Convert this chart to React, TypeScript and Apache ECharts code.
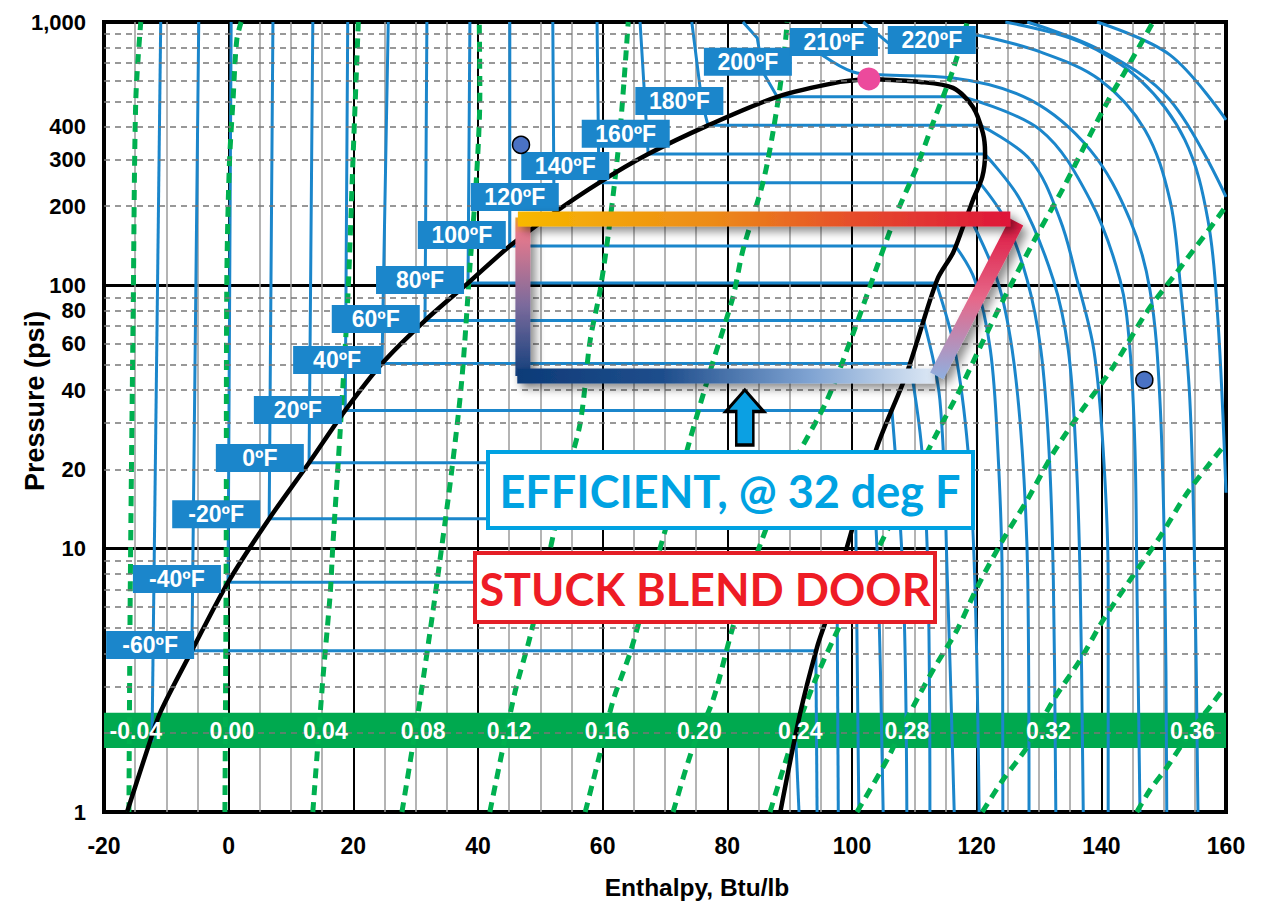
import React, { useEffect, useRef } from "react";
import * as echarts from "echarts";

// ---------- axis / label data ----------
const yLabelValues = [1, 10, 20, 40, 60, 80, 100, 200, 300, 400, 1000];
const yLabelTexts = ["1", "10", "20", "40", "60", "80", "100", "200", "300", "400", "1,000"];
const minorPressures = [2, 3, 4, 5, 6, 7, 8, 9, 20, 30, 40, 50, 60, 70, 80, 90, 200, 300, 400, 500, 600, 700, 800, 900];
const bandLow = 1.75;
const bandHigh = 2.38;
const entropyLabelTexts = ["-0.04", "0.00", "0.04", "0.08", "0.12", "0.16", "0.20", "0.24", "0.28", "0.32", "0.36"];
const entropyLabelH = [-14.9, 0.5, 15.5, 31.2, 45.0, 60.7, 75.5, 91.7, 108.8, 131.5, 154.6];
const entropyLabelP = 2.03;

const tempLabelTexts = ["-60ºF", "-40ºF", "-20ºF", "0ºF", "20ºF", "40ºF", "60ºF", "80ºF", "100ºF", "120ºF", "140ºF", "160ºF", "180ºF", "200ºF", "210ºF", "220ºF"];
const tempLabelH = [-12.6, -8.3, -2.0, 5.0, 11.1, 17.4, 23.6, 30.7, 37.4, 45.9, 54.0, 63.7, 72.3, 83.3, 97.1, 112.8];
const tempLabelP = [4.31, 7.67, 13.5, 22.1, 33.6, 52.1, 74.5, 104.8, 155.4, 216.6, 284, 376, 501, 706, 840, 855];

// ---------- saturation dome ----------
const satLiquid = [[-16.3, 1], [-12.9, 1.77], [-11.0, 2.38], [-5.9, 4.1], [-0.1, 7.45], [6.5, 13.0], [12.9, 21.2], [18.7, 33.5], [24.6, 50.5], [31.5, 73.5], [38.4, 102], [45.1, 141], [52.0, 187], [59.4, 245], [67.3, 315], [76.9, 405], [88.0, 520], [98.1, 592.3], [102.7, 608]];
const satVapor = [[102.7, 608], [110.9, 592.3], [116.2, 562], [119.4, 476], [121.0, 379], [121.35, 318.3], [120.9, 258], [119.4, 211], [117.8, 166.6], [116.2, 132.8], [113.65, 104.8], [108.8, 46.5], [104.0, 24.3], [99.2, 10.15], [96.0, 5.5], [94.4, 4.23], [91.7, 2.38], [88.5, 1]];

// ---------- isotherms ----------
const isoM80Liquid = [[-10.9, 1000], [-12.3, 1.85]];
const isoM80Vapor = [[91.0, 1.85], [91.5, 1]];
const isoM60Straight = [[-4.8, 1000], [-5.9, 4.1], [94.2, 4.1]];
const isoM60Vapor = [[94.2, 4.1], [94.4, 1]];
const isoM40Straight = [[0.4, 1000], [-0.1, 7.45], [97.6, 7.45]];
const isoM40Vapor = [[97.6, 7.45], [97.8, 1]];
const isoM20Straight = [[7.1, 1000], [6.5, 13.0], [100.6, 13.0]];
const isoM20Vapor = [[100.6, 13.0], [100.7, 7.6], [101.1, 1]];
const iso0Straight = [[13.5, 1000], [12.9, 21.2], [103.3, 21.2]];
const iso0Vapor = [[103.3, 21.2], [104.2, 7.6], [105.0, 1]];
const iso20Straight = [[19.1, 1000], [18.7, 33.5], [106.4, 33.5]];
const iso20Vapor = [[106.4, 33.5], [108.2, 7.6], [108.8, 1]];
const iso40Straight = [[25.6, 1000], [24.6, 50.5], [109.3, 50.5]];
const iso40Vapor = [[109.3, 50.5], [111.2, 23.7], [112.2, 7.6], [112.5, 1]];
const iso60Straight = [[31.8, 1000], [31.5, 73.5], [111.5, 73.5]];
const iso60Vapor = [[111.5, 73.5], [114.1, 36.7], [115.3, 7.6], [116.4, 1]];
const iso80Straight = [[38.7, 1000], [38.4, 102], [113.5, 102]];
const iso80Vapor = [[113.5, 102], [116.5, 56.8], [118.6, 23.7], [119.7, 7.6], [120.4, 1]];
const iso100Straight = [[45.1, 1000], [45.1, 141], [116.6, 141]];
const iso100Vapor = [[116.6, 141], [119.7, 104.8], [122.2, 56.8], [123.4, 23.7], [124.1, 7.6], [124.2, 1]];
const iso120Straight = [[52.0, 1000], [52.2, 187], [118.6, 187]];
const iso120Vapor = [[118.6, 187], [123.3, 104.8], [125.7, 56.8], [127.3, 23.7], [128.2, 7.6], [128.4, 1]];
const iso140Straight = [[59.1, 1000], [59.4, 245], [120.5, 245]];
const iso140Vapor = [[120.5, 245], [124.6, 177.2], [128.1, 104.8], [130.3, 56.8], [131.6, 23.7], [132.3, 7.6], [132.7, 1]];
const iso160Straight = [[66.0, 1000], [67.3, 315], [121.3, 315]];
const iso160Vapor = [[121.3, 315], [127.0, 211], [132.3, 104.8], [134.7, 56.8], [135.9, 23.7], [136.6, 7.6], [137.1, 1]];
const iso180Straight = [[74.3, 1000], [75.9, 500], [76.9, 405], [120.6, 405]];
const iso180Vapor = [[120.6, 405], [128.6, 299.5], [133.4, 177.2], [136.1, 104.8], [138.8, 56.8], [140.3, 23.7], [141.1, 7.6], [141.1, 1]];
const iso200Straight = [[82.5, 1000], [84.8, 870], [85.7, 646], [88.0, 520], [117.7, 520]];
const iso200Vapor = [[117.7, 520], [130.2, 389.2], [138.2, 211], [143.0, 104.8], [144.6, 56.8], [145.4, 23.7], [145.7, 7.6], [146.2, 1]];
const iso210Vapor = [[95.2, 750], [100.2, 646], [104.5, 630], [116.2, 613], [128.6, 506], [138.2, 326.9], [144.6, 177.2], [147.8, 96], [149.4, 36.7], [150.2, 7.6], [150.5, 1]];
const iso220Straight = [[101.8, 1000], [105.8, 833], [120.1, 893]];
const iso220Vapor = [[120.1, 893], [130.2, 770], [139.8, 602.6], [147.0, 389.2], [151.0, 211], [152.6, 104.8], [154.2, 36.7], [155.0, 7.6], [155.5, 1]];
const iso240Vapor = [[124.6, 1000], [136.6, 840], [146.2, 602.6], [153.4, 356.6], [157.1, 177.2], [158.7, 73.9], [160, 16.3]];
const iso260Vapor = [[128.1, 1000], [139.8, 783], [151.0, 506], [160, 216.7]];
const iso280Vapor = [[139.3, 1000], [151.0, 750], [160, 424.9]];

// ---------- entropy lines ----------
const sM004 = [[-16.0, 1], [-15.8, 6.4], [-15.3, 88], [-14.9, 506], [-14.1, 1000]];
const s000 = [[-0.6, 1], [-0.4, 9.05], [-0.3, 102], [0.1, 282], [0.7, 506], [1.3, 855], [2.0, 1000]];
const s004 = [[13.5, 1], [15.1, 3.17], [16.3, 6.79], [16.7, 10.15], [17.9, 28.2], [19.1, 88.1], [19.9, 281.7], [20.8, 1000]];
const s008 = [[27.8, 1], [30.7, 2.66], [32.8, 5.85], [33.9, 9.05], [35.8, 19.9], [37.4, 43.7], [38.7, 117.5], [39.8, 267.3], [40.3, 538], [40.2, 1000]];
const s012 = [[41.9, 1], [45.9, 2.83], [48.35, 4.62], [51.2, 9.05], [54.0, 18.2], [56.4, 30.0], [58.0, 62.0], [59.6, 96.0], [61.2, 177.2], [62.8, 389.2], [64.1, 1000]];
const s016 = [[57.2, 1], [59.6, 1.675], [61.7, 2.66], [64.4, 4.02], [66.8, 6.38], [70.5, 12.85], [74.0, 25.9], [77.55, 49.9], [80.9, 90.3], [82.5, 136], [85.7, 244.8], [87.3, 379], [88.9, 675], [89.6, 1000]];
const s020 = [[71.3, 1], [74.5, 1.765], [77.7, 2.66], [80.9, 5.04], [85.25, 10.33], [90.1, 19.9], [96.0, 36.7], [100.2, 65.9], [104.0, 117.5], [107.2, 188.4], [110.4, 281.7], [113.0, 413.9], [116.2, 658], [118.5, 1000]];
const s024 = [[86.85, 1], [90.1, 1.765], [94.1, 3.17], [98.1, 5.13], [102.9, 8.67], [107.7, 14.65], [113.65, 27.5], [117.3, 40.1], [120.55, 58.3], [124.1, 86.5], [129.7, 155.4], [133.9, 234.4], [138.2, 372.5], [141.4, 519.4], [143.5, 629.6], [148.3, 1000]];
const s028 = [[100.8, 1], [105.6, 1.576], [109.3, 2.38], [113.0, 3.46], [116.85, 4.91], [120.1, 7.15], [124.2, 10.79], [128.1, 15.3], [132.3, 23.1], [136.6, 32.8], [141.9, 49.0], [147.3, 79.3], [152.15, 112.4], [157.45, 165.2], [159.8, 196.8]];
const s032 = [[120.9, 1], [124.2, 1.323], [128.1, 1.765], [132.3, 2.66], [136.6, 3.78], [140.3, 5.36], [144.6, 7.6], [149.4, 11.08], [153.8, 16.3], [159.8, 24.8]];
const s036 = [[145.7, 1], [147.8, 1.212], [150.55, 1.482], [154.2, 1.995], [157.9, 2.594], [159.8, 2.984]];

// ---------- refrigeration cycle & markers ----------
// each leg: [h start, P start, h end, P end]
const cycleLeft = [47.2, 45.3, 47.2, 181];
const cycleBottom = [46.3, 45.3, 113.3, 45.3];
const cycleRight = [126.4, 174, 113.6, 45.3];
const cycleTop = [46.4, 178.7, 125.4, 178.7];
const stateDots = [[46.9, 341.5], [146.9, 43.7]];
const criticalPoint = [[102.7, 608]];
const arrowPoint = [[82.8, 31.5]];

const FONT = "'Liberation Sans', Arial, Helvetica, sans-serif";
const ISO_BLUE = "#1B86CB";
const ENTROPY_GREEN = "#00B050";

export default function App() {
  const ref = useRef<HTMLDivElement>(null);

  useEffect(() => {
    if (!ref.current) return;
    const chart = echarts.init(ref.current, null, { renderer: "svg" });
    const series: any[] = [];

    // dashed minor pressure grid
    series.push({
      type: "line", data: [[-20, 1]], showSymbol: false, silent: true, z: 1,
      lineStyle: { width: 0, opacity: 0 },
      markLine: {
        silent: true, symbol: ["none", "none"], label: { show: false },
        lineStyle: { type: [6, 5], color: "#777", width: 1.5 },
        data: minorPressures.map((v) => ({ yAxis: v })),
      },
    });

    const isoStraights = [isoM80Liquid, isoM60Straight, isoM40Straight, isoM20Straight, iso0Straight, iso20Straight, iso40Straight, iso60Straight, iso80Straight, iso100Straight, iso120Straight, iso140Straight, iso160Straight, iso180Straight, iso200Straight, iso220Straight];
    const isoVapors = [isoM80Vapor, isoM60Vapor, isoM40Vapor, isoM20Vapor, iso0Vapor, iso20Vapor, iso40Vapor, iso60Vapor, iso80Vapor, iso100Vapor, iso120Vapor, iso140Vapor, iso160Vapor, iso180Vapor, iso200Vapor, iso210Vapor, iso220Vapor, iso240Vapor, iso260Vapor, iso280Vapor];
    isoStraights.forEach((d) => series.push({
      type: "line", data: d, showSymbol: false, silent: true, z: 2,
      lineStyle: { color: ISO_BLUE, width: 3 },
    }));
    isoVapors.forEach((d) => series.push({
      type: "line", data: d, showSymbol: false, silent: true, z: 2, smooth: 0.35,
      lineStyle: { color: ISO_BLUE, width: 3 },
    }));

    const entropyLines = [sM004, s000, s004, s008, s012, s016, s020, s024, s028, s032, s036];
    entropyLines.forEach((d) => series.push({
      type: "line", data: d, showSymbol: false, silent: true, z: 2, smooth: 0.3,
      lineStyle: { color: ENTROPY_GREEN, width: 5, type: [10, 7] },
    }));

    // green entropy band
    series.push({
      type: "line", data: [[-20, 1]], showSymbol: false, silent: true, z: 3,
      lineStyle: { width: 0, opacity: 0 },
      markArea: {
        silent: true, itemStyle: { color: "#00A94F", opacity: 1 },
        data: [[{ yAxis: bandLow }, { yAxis: bandHigh }]],
      },
    });

    // saturation dome
    [satLiquid, satVapor].forEach((d) => series.push({
      type: "line", data: d, showSymbol: false, silent: true, z: 4, smooth: 0.3,
      lineStyle: { color: "#000", width: 4.5 },
    }));

    // entropy labels
    series.push({
      type: "scatter", symbolSize: 0, silent: true, z: 5, clip: false,
      itemStyle: { opacity: 1 },
      data: entropyLabelTexts.map((t, i) => ({ value: [entropyLabelH[i], entropyLabelP], name: t })),
      label: { show: true, position: "inside", formatter: "{b}", color: "#fff", opacity: 1, fontSize: 23, fontWeight: "bold", fontFamily: FONT },
    });

    // temperature labels
    series.push({
      type: "scatter", symbolSize: 0, silent: true, z: 6, clip: false,
      itemStyle: { opacity: 1 },
      data: tempLabelTexts.map((t, i) => ({ value: [tempLabelH[i], tempLabelP[i]], name: t })),
      label: {
        show: true, position: "inside", formatter: "{b}", color: "#fff", opacity: 1, fontSize: 23, fontWeight: "bold", fontFamily: FONT,
        backgroundColor: ISO_BLUE, width: 88, height: 28, lineHeight: 28, align: "center", verticalAlign: "middle", padding: 0,
      },
    });

    // y axis labels
    series.push({
      type: "scatter", symbolSize: 0, silent: true, z: 6, clip: false,
      itemStyle: { opacity: 1 },
      data: yLabelTexts.map((t, i) => ({ value: [-20, yLabelValues[i]], name: t })),
      label: { show: true, position: "left", distance: 18, formatter: "{b}", color: "#000", opacity: 1, fontSize: 22, fontWeight: "bold", fontFamily: FONT },
    });

    // refrigeration cycle (thick gradient bars drawn through the axes' scales)
    const legGradients = [
      new echarts.graphic.LinearGradient(0, 0, 0, 1, [
        { offset: 0, color: "#F2A61C" }, { offset: 0.1, color: "#E8798C" }, { offset: 0.55, color: "#7C6B9C" }, { offset: 1, color: "#123F7C" },
      ]),
      new echarts.graphic.LinearGradient(0, 0, 1, 0, [
        { offset: 0, color: "#0D3B78" }, { offset: 0.35, color: "#1F4E8C" }, { offset: 0.7, color: "#7FA3D2" }, { offset: 1, color: "#DDE8F5" },
      ]),
      new echarts.graphic.LinearGradient(0, 0, 0, 1, [
        { offset: 0, color: "#DC143C" }, { offset: 0.5, color: "#E6688A" }, { offset: 1, color: "#8FB0E0" },
      ]),
      new echarts.graphic.LinearGradient(0, 0, 1, 0, [
        { offset: 0, color: "#F8B800" }, { offset: 0.4, color: "#EC8A18" }, { offset: 0.7, color: "#E5492B" }, { offset: 1, color: "#DE163A" },
      ]),
    ];
    series.push({
      type: "custom", silent: true, z: 20, clip: false,
      data: [cycleLeft, cycleBottom, cycleRight, cycleTop],
      encode: { x: [0, 2], y: [1, 3] },
      renderItem: (params: any, api: any) => {
        const a = api.coord([api.value(0), api.value(1)]);
        const b = api.coord([api.value(2), api.value(3)]);
        const dx = b[0] - a[0];
        const dy = b[1] - a[1];
        const len = Math.hypot(dx, dy) || 1;
        const half = 7.5;
        const nx = (-dy / len) * half;
        const ny = (dx / len) * half;
        return {
          type: "polygon",
          shape: { points: [[a[0] + nx, a[1] + ny], [b[0] + nx, b[1] + ny], [b[0] - nx, b[1] - ny], [a[0] - nx, a[1] - ny]] },
          style: {
            fill: legGradients[params.dataIndex],
            shadowColor: "rgba(0,0,0,0.45)", shadowBlur: 10, shadowOffsetX: 5, shadowOffsetY: 5,
          },
        };
      },
    });

    // dots
    series.push({
      type: "scatter", data: stateDots, symbolSize: 17, silent: true, z: 25, clip: false,
      itemStyle: { color: "#4A72C4", borderColor: "#000", borderWidth: 1.5, opacity: 1 },
    });
    series.push({
      type: "scatter", data: criticalPoint, symbolSize: 23, silent: true, z: 25, clip: false,
      itemStyle: { color: "#EC4A9C", opacity: 1 },
    });
    series.push({
      type: "scatter", data: arrowPoint, silent: true, z: 30, clip: false,
      symbol: "path://M20,0 L40,22 L29,22 L29,56 L11,56 L11,22 L0,22 Z", symbolSize: [38, 55],
      itemStyle: { color: "#0BA0E3", borderColor: "#000", borderWidth: 3, opacity: 1 },
    });

    chart.setOption({
      animation: false,
      backgroundColor: "#fff",
      grid: { left: 104, right: 43, top: 22, bottom: 96, show: true, borderColor: "#000", borderWidth: 4, backgroundColor: "transparent" },
      xAxis: {
        type: "value", min: -20, max: 160, interval: 20,
        axisLine: { show: false }, axisTick: { show: false },
        axisLabel: { color: "#000", fontSize: 23, fontWeight: "bold", fontFamily: FONT, margin: 22 },
        splitLine: { show: true, lineStyle: { color: "#000", width: 2 } },
        minorTick: { show: false, splitNumber: 4 },
        minorSplitLine: { show: true, lineStyle: { color: "#9b9b9b", width: 1.5 } },
      },
      yAxis: {
        type: "log", logBase: 10, min: 1, max: 1000,
        axisLine: { show: false },
        axisLabel: { show: false },
        axisTick: { show: true, length: 17, lineStyle: { color: "#000", width: 3 } },
        splitLine: { show: true, lineStyle: { color: "#000", width: 3 } },
      },
      graphic: [
        { type: "text", x: 35, y: 401, rotation: Math.PI / 2, z: 100,
          style: { text: "Pressure (psi)", fill: "#000", font: `bold 27px ${FONT}`, textAlign: "center", textVerticalAlign: "middle" } },
        { type: "text", x: 697, y: 887, z: 100,
          style: { text: "Enthalpy, Btu/lb", fill: "#000", font: `bold 24.5px ${FONT}`, textAlign: "center", textVerticalAlign: "middle" } },
        { type: "rect", z: 100, shape: { x: 488, y: 452, width: 485, height: 76 },
          style: { fill: "#fff", stroke: "#00A2E2", lineWidth: 4 } },
        { type: "text", x: 730, y: 491, z: 101,
          style: { text: "EFFICIENT, @ 32 deg F", fill: "#00A2E2", font: "bold 45px Lato, 'Open Sans', sans-serif", textAlign: "center", textVerticalAlign: "middle" } },
        { type: "rect", z: 100, shape: { x: 475, y: 553, width: 460, height: 69 },
          style: { fill: "#fff", stroke: "#E41E26", lineWidth: 4 } },
        { type: "text", x: 705, y: 589, z: 101,
          style: { text: "STUCK BLEND DOOR", fill: "#EE1C25", font: "bold 45px Lato, 'Open Sans', sans-serif", textAlign: "center", textVerticalAlign: "middle" } },
      ],
      series,
    });

    return () => chart.dispose();
  }, []);

  return <div ref={ref} style={{ position: "absolute", left: 0, top: 0, width: 1269, height: 908 }} />;
}
